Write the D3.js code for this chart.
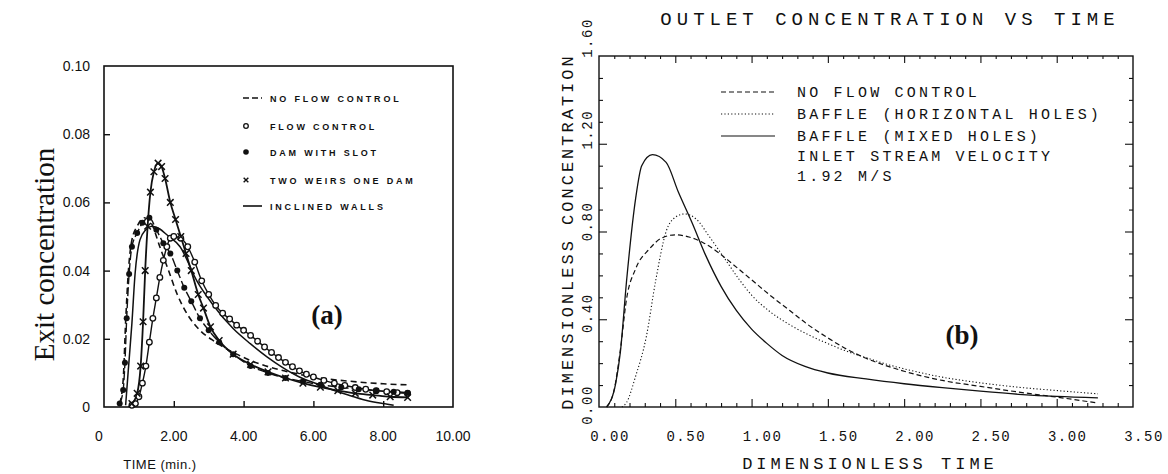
<!DOCTYPE html>
<html>
<head>
<meta charset="utf-8">
<script src="https://cdn.jsdelivr.net/npm/d3@7"></script>
<style>
  html, body { margin: 0; padding: 0; background: #fff; }
  svg { display: block; }
</style>
</head>
<body>
<svg id="chart" width="1168" height="474"></svg>
<script>
// ---------- Panel (a): exit concentration vs time (min.) ----------
const aXTicks = [0, 2, 4, 6, 8, 10];
const aXTickLabels = ["0", "2.00", "4.00", "6.00", "8.00", "10.00"];
const aYTicks = [0, 0.02, 0.04, 0.06, 0.08, 0.10];
const aYTickLabels = ["0", "0.02", "0.04", "0.06", "0.08", "0.10"];

const noFlowTime = [0.45, 0.55, 0.62, 0.70, 0.80, 0.95, 1.15, 1.35, 1.60, 1.85, 2.10, 2.40, 2.70, 3.20, 3.80, 4.50, 5.20, 6.00, 7.00, 8.00, 8.70];
const noFlowConc = [0.001, 0.008, 0.025, 0.040, 0.049, 0.053, 0.0555, 0.054, 0.047, 0.040, 0.033, 0.027, 0.023, 0.019, 0.0155, 0.0125, 0.0105, 0.0088, 0.0076, 0.0068, 0.0065];

const flowCtrlTime = [0.80, 0.90, 1.00, 1.10, 1.20, 1.30, 1.40, 1.50, 1.60, 1.70, 1.80, 1.90, 2.00, 2.20, 2.40, 2.60, 2.80, 3.00, 3.20, 3.40, 3.60, 3.80, 4.00, 4.20, 4.40, 4.60, 4.80, 5.00, 5.20, 5.40, 5.60, 5.80, 6.00, 6.30, 6.60, 6.90, 7.20, 7.50, 7.80, 8.10, 8.40, 8.70];
const flowCtrlConc = [0.0005, 0.001, 0.003, 0.007, 0.012, 0.019, 0.026, 0.032, 0.038, 0.043, 0.047, 0.0495, 0.050, 0.0495, 0.047, 0.0425, 0.037, 0.033, 0.0298, 0.0275, 0.0258, 0.024, 0.0225, 0.021, 0.0193, 0.0176, 0.016, 0.0145, 0.0131, 0.0118, 0.0106, 0.0096, 0.0088, 0.0078, 0.0070, 0.0063, 0.0057, 0.0052, 0.0048, 0.0045, 0.0042, 0.0040];

const damSlotTime = [0.45, 0.55, 0.60, 0.65, 0.72, 0.80, 0.95, 1.10, 1.30, 1.50, 1.70, 1.90, 2.10, 2.30, 2.50, 2.75, 3.00, 3.30, 3.70, 4.20, 4.70, 5.20, 5.70, 6.20, 6.80, 7.30, 7.80, 8.30, 8.70];
const damSlotConc = [0.001, 0.005, 0.013, 0.026, 0.039, 0.047, 0.051, 0.054, 0.0555, 0.052, 0.048, 0.045, 0.040, 0.035, 0.031, 0.026, 0.0225, 0.019, 0.0155, 0.012, 0.010, 0.0085, 0.0075, 0.0065, 0.0058, 0.0052, 0.0048, 0.0045, 0.0042];

const weirsTime = [0.80, 0.95, 1.05, 1.12, 1.18, 1.25, 1.33, 1.43, 1.55, 1.65, 1.75, 1.90, 2.05, 2.20, 2.35, 2.50, 2.70, 2.85, 3.05, 3.30, 3.70, 4.20, 4.70, 5.20, 5.70, 6.20, 6.70, 7.20, 7.70, 8.20, 8.70];
const weirsConc = [0.001, 0.004, 0.012, 0.025, 0.040, 0.053, 0.063, 0.069, 0.0715, 0.0705, 0.067, 0.060, 0.055, 0.050, 0.045, 0.040, 0.033, 0.029, 0.0235, 0.0195, 0.0155, 0.0125, 0.0103, 0.0085, 0.0070, 0.0058, 0.0048, 0.0040, 0.0035, 0.0030, 0.0028];

const inclinedTime = [0.62, 0.69, 0.80, 0.89, 1.03, 1.20, 1.37, 1.60, 1.80, 2.18, 2.66, 3.12, 3.70, 4.20, 4.67, 5.10, 5.60, 6.10, 6.56, 7.00, 7.50, 8.00, 8.30];
const inclinedConc = [0.0005, 0.010, 0.0246, 0.039, 0.049, 0.0520, 0.0530, 0.0522, 0.0505, 0.047, 0.037, 0.0300, 0.0230, 0.0185, 0.0147, 0.0117, 0.0088, 0.0068, 0.0050, 0.0035, 0.0020, 0.0010, 0.0005];

const aLegendLabels = ["NO FLOW CONTROL", "FLOW CONTROL", "DAM WITH SLOT", "TWO WEIRS ONE DAM", "INCLINED WALLS"];

// ---------- Panel (b): outlet concentration vs dimensionless time ----------
const bXTicks = [0, 0.5, 1.0, 1.5, 2.0, 2.5, 3.0, 3.5];
const bXTickLabels = ["0.00", "0.50", "1.00", "1.50", "2.00", "2.50", "3.00", "3.50"];
const bYTicks = [0, 0.4, 0.8, 1.2, 1.6];
const bYTickLabels = ["0.00", "0.40", "0.80", "1.20", "1.60"];

const noCtrlTime = [0.05, 0.10, 0.14, 0.18, 0.24, 0.33, 0.41, 0.50, 0.59, 0.68, 0.79, 0.87, 1.00, 1.12, 1.25, 1.37, 1.50, 1.62, 1.75, 1.875, 2.00, 2.25, 2.50, 2.75, 3.00, 3.27];
const noCtrlConc = [0.0, 0.08, 0.26, 0.49, 0.63, 0.72, 0.77, 0.785, 0.775, 0.75, 0.70, 0.655, 0.580, 0.510, 0.440, 0.375, 0.315, 0.265, 0.222, 0.190, 0.163, 0.121, 0.094, 0.068, 0.045, 0.018];

const horizTime = [0.15, 0.18, 0.24, 0.31, 0.37, 0.44, 0.50, 0.56, 0.64, 0.72, 0.83, 0.92, 1.00, 1.12, 1.25, 1.37, 1.50, 1.62, 1.75, 1.875, 2.00, 2.25, 2.50, 2.75, 3.00, 3.27];
const horizConc = [0.0, 0.02, 0.14, 0.32, 0.57, 0.80, 0.865, 0.88, 0.855, 0.78, 0.67, 0.58, 0.51, 0.435, 0.375, 0.330, 0.289, 0.255, 0.225, 0.197, 0.174, 0.136, 0.110, 0.090, 0.075, 0.060];

const mixedTime = [0.05, 0.11, 0.14, 0.18, 0.24, 0.28, 0.35, 0.44, 0.52, 0.61, 0.70, 0.80, 0.90, 1.00, 1.10, 1.20, 1.35, 1.50, 1.75, 2.00, 2.25, 2.50, 2.75, 3.00, 3.27];
const mixedConc = [0.0, 0.11, 0.25, 0.57, 0.95, 1.10, 1.15, 1.115, 0.98, 0.84, 0.69, 0.55, 0.44, 0.355, 0.290, 0.235, 0.185, 0.155, 0.128, 0.106, 0.088, 0.072, 0.058, 0.048, 0.042];

const bLegendLabels = ["NO FLOW CONTROL", "BAFFLE (HORIZONTAL HOLES)", "BAFFLE (MIXED HOLES)"];
const bNote = ["INLET STREAM VELOCITY", "1.92 M/S"];

// ---------------------------------------------------------------------------
const svg = d3.select("#chart");
const ink = "#111";
const zip = (xs, ys) => xs.map((x, i) => [x, ys[i]]);

// ===== Panel (a) =====
const ax = d3.scaleLinear().domain([0, 10]).range([104, 453]);
const ay = d3.scaleLinear().domain([0, 0.10]).range([407, 66]);
const gA = svg.append("g");

// frame
gA.append("rect")
  .attr("x", ax(0)).attr("y", ay(0.10))
  .attr("width", ax(10) - ax(0)).attr("height", ay(0) - ay(0.10))
  .attr("fill", "none").attr("stroke", ink).attr("stroke-width", 1.6);

// inward ticks
gA.append("g").attr("transform", `translate(0,${ay(0)})`)
  .call(d3.axisTop(ax).tickValues(aXTicks.slice(1, -1)).tickSize(6).tickFormat(""))
  .call(g => g.select(".domain").remove())
  .call(g => g.selectAll("line").attr("stroke", ink).attr("stroke-width", 1.4));
gA.append("g").attr("transform", `translate(${ax(0)},0)`)
  .call(d3.axisRight(ay).tickValues(aYTicks.slice(1, -1)).tickSize(6).tickFormat(""))
  .call(g => g.select(".domain").remove())
  .call(g => g.selectAll("line").attr("stroke", ink).attr("stroke-width", 1.4));

// tick labels
gA.append("g").selectAll("text").data(aXTicks).join("text")
  .attr("x", (d, i) => ax(d) - (i === 0 ? 5 : 0)).attr("y", 441)
  .attr("text-anchor", "middle")
  .attr("font-family", "Liberation Sans, Arial, sans-serif").attr("font-size", 14)
  .attr("fill", ink)
  .text((d, i) => aXTickLabels[i]);
gA.append("g").selectAll("text").data(aYTicks).join("text")
  .attr("x", 90).attr("y", d => ay(d) + 5)
  .attr("text-anchor", "end")
  .attr("font-family", "Liberation Sans, Arial, sans-serif").attr("font-size", 14)
  .attr("fill", ink)
  .text((d, i) => aYTickLabels[i]);

// axis titles
gA.append("text")
  .attr("transform", `translate(54,${(ay(0) + ay(0.10)) / 2 + 18}) rotate(-90)`)
  .attr("text-anchor", "middle")
  .attr("font-family", "Liberation Serif, Times New Roman, serif").attr("font-size", 29)
  .attr("fill", ink)
  .text("Exit concentration");
gA.append("text")
  .attr("x", 160).attr("y", 469)
  .attr("text-anchor", "middle")
  .attr("font-family", "Liberation Sans, Arial, sans-serif").attr("font-size", 13)
  .attr("letter-spacing", 0.5)
  .attr("fill", ink)
  .text("TIME (min.)");
gA.append("text")
  .attr("x", 327).attr("y", 324)
  .attr("text-anchor", "middle")
  .attr("font-family", "Liberation Serif, Times New Roman, serif").attr("font-size", 27)
  .attr("font-weight", "bold")
  .attr("fill", ink)
  .text("(a)");

const lineA = d3.line().x(d => ax(d[0])).y(d => ay(d[1])).curve(d3.curveMonotoneX);
const plotA = gA.append("g");

const noFlow = zip(noFlowTime, noFlowConc);
const flowCtrl = zip(flowCtrlTime, flowCtrlConc);
const damSlot = zip(damSlotTime, damSlotConc);
const weirs = zip(weirsTime, weirsConc);
const inclined = zip(inclinedTime, inclinedConc);

plotA.append("path").datum(noFlow).attr("d", lineA)
  .attr("fill", "none").attr("stroke", ink).attr("stroke-width", 1.6).attr("stroke-dasharray", "6,4");
plotA.append("path").datum(damSlot).attr("d", lineA)
  .attr("fill", "none").attr("stroke", ink).attr("stroke-width", 1.4).attr("stroke-dasharray", "9,3");
plotA.append("path").datum(inclined).attr("d", lineA)
  .attr("fill", "none").attr("stroke", ink).attr("stroke-width", 1.5);
plotA.append("path").datum(weirs).attr("d", lineA)
  .attr("fill", "none").attr("stroke", ink).attr("stroke-width", 1.8);
plotA.append("path").datum(flowCtrl).attr("d", lineA)
  .attr("fill", "none").attr("stroke", ink).attr("stroke-width", 1.4);

// markers
plotA.append("g").selectAll("circle").data(flowCtrl).join("circle")
  .attr("cx", d => ax(d[0])).attr("cy", d => ay(d[1])).attr("r", 2.8)
  .attr("fill", "#fff").attr("stroke", ink).attr("stroke-width", 1.3);
plotA.append("g").selectAll("circle").data(damSlot).join("circle")
  .attr("cx", d => ax(d[0])).attr("cy", d => ay(d[1])).attr("r", 3)
  .attr("fill", ink);
const xMark = d3.symbol().type(d3.symbolX).size(30);
plotA.append("g").selectAll("path").data(weirs).join("path")
  .attr("transform", d => `translate(${ax(d[0])},${ay(d[1])})`)
  .attr("d", xMark).attr("fill", ink).attr("stroke", ink).attr("stroke-width", 1.5);

// legend (a)
const legA = gA.append("g").attr("font-family", "Liberation Sans, Arial, sans-serif")
  .attr("font-size", 9).attr("font-weight", "bold").attr("letter-spacing", 2.8).attr("fill", ink);
const legAY = [98, 126, 152, 180, 206];
aLegendLabels.forEach((lab, i) => {
  legA.append("text").attr("x", 270).attr("y", legAY[i] + 3.5).text(lab);
});
legA.append("line").attr("x1", 243).attr("x2", 262).attr("y1", legAY[0]).attr("y2", legAY[0])
  .attr("stroke", ink).attr("stroke-width", 1.6).attr("stroke-dasharray", "6,3");
legA.append("circle").attr("cx", 246).attr("cy", legAY[1]).attr("r", 2.3)
  .attr("fill", "#fff").attr("stroke", ink).attr("stroke-width", 1.3);
legA.append("circle").attr("cx", 246).attr("cy", legAY[2]).attr("r", 2.8).attr("fill", ink);
legA.append("path").attr("transform", `translate(246,${legAY[3]})`)
  .attr("d", d3.symbol().type(d3.symbolX).size(16)).attr("stroke", ink).attr("stroke-width", 1.4);
legA.append("line").attr("x1", 243).attr("x2", 262).attr("y1", legAY[4]).attr("y2", legAY[4])
  .attr("stroke", ink).attr("stroke-width", 1.6);

// ===== Panel (b) =====
const bx = d3.scaleLinear().domain([0, 3.5]).range([599, 1133]);
const by = d3.scaleLinear().domain([0, 1.6]).range([407, 56]);
// the plotter spread its rotated value labels a little wider than the ticks
const byLabel = d3.scaleLinear().domain([0, 1.6]).range([405, 38]);
const gB = svg.append("g");
const plotterFont = "Liberation Mono, Courier New, monospace";

gB.append("rect")
  .attr("x", bx(0)).attr("y", by(1.6))
  .attr("width", bx(3.5) - bx(0)).attr("height", by(0) - by(1.6))
  .attr("fill", "none").attr("stroke", ink).attr("stroke-width", 1.4);

const minorX = d3.range(0.1, 3.45, 0.1).filter(v => Math.abs(v * 2 - Math.round(v * 2)) > 1e-6);
const majorX = bXTicks.slice(1, -1);
const minorY = d3.range(0.1, 1.55, 0.1).filter(v => Math.abs(v / 0.4 - Math.round(v / 0.4)) > 1e-6);
const majorY = bYTicks.slice(1, -1);

function tickSet(g, axisFn, scale, pos, values, size) {
  g.append("g").attr("transform", pos)
    .call(axisFn(scale).tickValues(values).tickSize(size).tickFormat(""))
    .call(s => s.select(".domain").remove())
    .call(s => s.selectAll("line").attr("stroke", ink).attr("stroke-width", 1.1));
}
tickSet(gB, d3.axisTop, bx, `translate(0,${by(0)})`, majorX, 8);
tickSet(gB, d3.axisTop, bx, `translate(0,${by(0)})`, minorX, 4);
tickSet(gB, d3.axisBottom, bx, `translate(0,${by(1.6)})`, majorX, 7);
tickSet(gB, d3.axisBottom, bx, `translate(0,${by(1.6)})`, minorX, 3);
tickSet(gB, d3.axisRight, by, `translate(${bx(0)},0)`, majorY, 8);
tickSet(gB, d3.axisRight, by, `translate(${bx(0)},0)`, minorY, 4);
tickSet(gB, d3.axisLeft, by, `translate(${bx(3.5)},0)`, majorY, 8);
tickSet(gB, d3.axisLeft, by, `translate(${bx(3.5)},0)`, minorY, 4);

gB.append("g").selectAll("text").data(bXTicks).join("text")
  .attr("x", d => bx(d) + 11).attr("y", 441)
  .attr("text-anchor", "middle")
  .attr("font-family", plotterFont).attr("font-size", 14).attr("letter-spacing", 1.5)
  .attr("fill", ink)
  .text((d, i) => bXTickLabels[i]);
gB.append("g").selectAll("text").data(bYTicks).join("text")
  .attr("transform", d => `translate(592,${byLabel(d)}) rotate(-90)`)
  .attr("text-anchor", "middle")
  .attr("font-family", plotterFont).attr("font-size", 14).attr("letter-spacing", 1.5)
  .attr("fill", ink)
  .text((d, i) => bYTickLabels[i]);

gB.append("text")
  .attr("x", 890).attr("y", 25)
  .attr("text-anchor", "middle")
  .attr("font-family", plotterFont).attr("font-size", 19).attr("letter-spacing", 5)
  .attr("fill", ink)
  .text("OUTLET CONCENTRATION VS TIME");
gB.append("text")
  .attr("x", 870).attr("y", 469)
  .attr("text-anchor", "middle")
  .attr("font-family", plotterFont).attr("font-size", 17).attr("letter-spacing", 4)
  .attr("fill", ink)
  .text("DIMENSIONLESS TIME");
gB.append("text")
  .attr("transform", `translate(573,${(by(0) + by(1.6)) / 2}) rotate(-90)`)
  .attr("text-anchor", "middle")
  .attr("font-family", plotterFont).attr("font-size", 17).attr("letter-spacing", 3)
  .attr("fill", ink)
  .text("DIMENSIONLESS CONCENTRATION");
gB.append("text")
  .attr("x", 962).attr("y", 344)
  .attr("text-anchor", "middle")
  .attr("font-family", "Liberation Serif, Times New Roman, serif").attr("font-size", 27)
  .attr("font-weight", "bold")
  .attr("fill", ink)
  .text("(b)");

const lineB = d3.line().x(d => bx(d[0])).y(d => by(d[1])).curve(d3.curveMonotoneX);
gB.append("path").datum(zip(noCtrlTime, noCtrlConc)).attr("d", lineB)
  .attr("fill", "none").attr("stroke", ink).attr("stroke-width", 1.2).attr("stroke-dasharray", "5,3");
gB.append("path").datum(zip(horizTime, horizConc)).attr("d", lineB)
  .attr("fill", "none").attr("stroke", ink).attr("stroke-width", 1.1).attr("stroke-dasharray", "1.2,2.2");
gB.append("path").datum(zip(mixedTime, mixedConc)).attr("d", lineB)
  .attr("fill", "none").attr("stroke", ink).attr("stroke-width", 1.3);

// legend (b)
const legB = gB.append("g").attr("font-family", plotterFont).attr("font-size", 15)
  .attr("letter-spacing", 3.2).attr("fill", ink);
const legBY = [92, 114, 136];
const dashes = ["5,3", "1.2,2.2", null];
bLegendLabels.forEach((lab, i) => {
  legB.append("line").attr("x1", 721).attr("x2", 775).attr("y1", legBY[i]).attr("y2", legBY[i])
    .attr("stroke", ink).attr("stroke-width", 1.1).attr("stroke-dasharray", dashes[i]);
  legB.append("text").attr("x", 797).attr("y", legBY[i] + 5).text(lab);
});
bNote.forEach((t, i) => {
  legB.append("text").attr("x", 797).attr("y", 161 + i * 20).text(t);
});
</script>
</body>
</html>
